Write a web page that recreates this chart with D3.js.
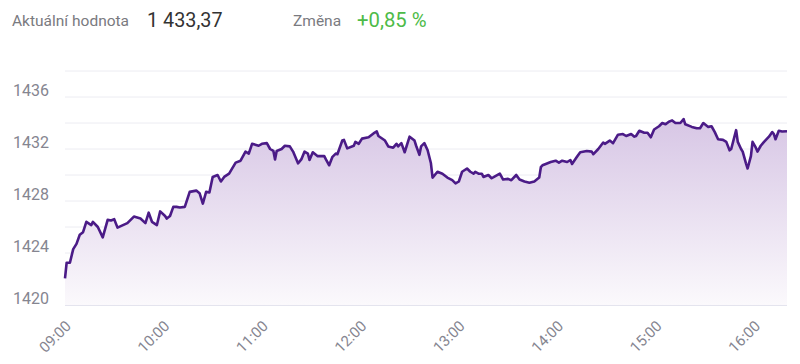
<!DOCTYPE html>
<html>
<head>
<meta charset="utf-8">
<script src="https://cdn.jsdelivr.net/npm/d3@7"></script>
<style>
  body { margin: 0; background: #fff; font-family: Roboto, "Open Sans", sans-serif; }
</style>
</head>
<body>
<script>
var times = [
  "09:00","09:01","09:03","09:05","09:07","09:09","09:11","09:13","09:16","09:17",
  "09:20","09:23","09:26","09:28","09:30","09:32","09:38","09:42","09:46","09:49",
  "09:51","09:53","09:56","09:58","10:01","10:02","10:04","10:06","10:08","10:10",
  "10:13","10:16","10:20","10:22","10:24","10:26","10:28","10:30","10:33","10:35",
  "10:37","10:40","10:44","10:47","10:50","10:52","10:54","10:58","11:00","11:03",
  "11:05","11:07","11:08","11:09","11:12","11:14","11:17","11:19","11:22","11:24",
  "11:26","11:28","11:29","11:31","11:34","11:38","11:39","11:41","11:43","11:45",
  "11:46","11:49","11:50","11:52","11:56","11:57","11:59","12:01","12:05","12:08",
  "12:10","12:11","12:15","12:17","12:20","12:22","12:23","12:25","12:27","12:30",
  "12:33","12:34","12:36","12:37","12:39","12:41","12:43","12:44","12:47","12:50",
  "12:53","12:56","12:58","13:00","13:02","13:05","13:07","13:09","13:10","13:12",
  "13:14","13:15","13:18","13:20","13:22","13:25","13:27","13:30","13:32","13:35",
  "13:37","13:40","13:43","13:46","13:49","13:50","13:51","13:53","13:56","13:59",
  "14:01","14:03","14:06","14:08","14:09","14:12","14:14","14:18","14:21","14:22",
  "14:25","14:28","14:29","14:32","14:34","14:37","14:40","14:42","14:45","14:47",
  "14:48","14:50","14:53","14:55","14:57","14:59","15:02","15:04","15:06","15:08",
  "15:10","15:12","15:15","15:17","15:18","15:22","15:25","15:27","15:29","15:32",
  "15:34","15:36","15:38","15:41","15:43","15:45","15:46","15:49","15:50","15:52",
  "15:53","15:55","15:56","15:58","15:59","16:01","16:02","16:04","16:06","16:09",
  "16:11","16:12","16:13","16:15","16:17","16:20"
];

var values = [
  1422.05,1423.25,1423.25,1424.3,1424.7,1425.4,1425.6,1426.4,1426.15,1426.4,
  1426.0,1425.2,1426.55,1426.5,1426.6,1425.95,1426.3,1426.8,1426.65,1426.3,
  1427.1,1426.4,1426.15,1427.2,1426.85,1426.65,1426.85,1427.55,1427.55,1427.5,
  1427.55,1428.7,1428.8,1428.6,1427.8,1428.7,1428.65,1429.85,1430.0,1429.5,
  1429.85,1430.1,1430.95,1431.1,1431.8,1431.65,1432.4,1432.25,1432.4,1432.45,
  1432.0,1431.85,1431.2,1431.85,1432.0,1432.25,1432.2,1431.8,1430.9,1431.2,
  1431.8,1431.65,1431.15,1431.75,1431.45,1431.45,1431.2,1430.75,1431.4,1431.65,
  1431.6,1432.65,1432.7,1432.05,1432.25,1432.55,1432.4,1432.8,1432.9,1433.2,
  1433.35,1433.0,1432.65,1432.2,1432.1,1432.4,1432.2,1432.45,1431.75,1432.95,
  1432.65,1432.25,1431.55,1432.2,1432.45,1431.9,1430.9,1429.8,1430.25,1430.1,
  1429.8,1429.6,1429.35,1429.5,1430.25,1430.5,1430.25,1430.1,1430.25,1430.1,
  1430.1,1429.85,1430.0,1429.75,1429.9,1430.1,1429.65,1429.7,1429.6,1430.0,
  1429.65,1429.5,1429.4,1429.5,1429.8,1430.6,1430.75,1430.85,1431.0,1431.1,
  1430.95,1431.1,1431.0,1431.15,1430.85,1431.4,1431.75,1431.85,1431.8,1431.6,
  1432.0,1432.5,1432.4,1432.65,1432.45,1433.1,1433.15,1433.0,1433.15,1432.95,
  1433.0,1433.4,1433.25,1433.25,1432.9,1433.5,1433.75,1434.0,1433.9,1434.1,
  1434.2,1434.0,1434.0,1434.3,1433.9,1433.7,1433.6,1433.6,1434.0,1433.7,
  1433.75,1433.3,1432.75,1432.7,1432.55,1431.9,1432.0,1433.45,1432.55,1432.0,
  1431.8,1430.9,1430.5,1431.45,1432.55,1432.1,1431.8,1432.25,1432.55,1432.95,
  1433.3,1433.15,1432.75,1433.4,1433.35,1433.37
];

var yTickLabels = [1420, 1424, 1428, 1432, 1436];
var yGridValues = [1420, 1422, 1424, 1426, 1428, 1430, 1432, 1434, 1436, 1438];
var xTickLabels = ["09:00", "10:00", "11:00", "12:00", "13:00", "14:00", "15:00", "16:00"];

var header = {
  label1: "Aktuální hodnota", value1: "1 433,37",
  label2: "Změna", value2: "+0,85 %"
};

var width = 800, height = 364;
var parse = d3.timeParse("%H:%M");
var data = times.map(function(t, i) { return { t: parse(t), v: values[i] } });

var x = d3.scaleTime()
  .domain([parse("09:00"), parse("16:20")])
  .range([65, 787]);

var y = d3.scaleLinear()
  .domain([1420, 1438])
  .range([305, 71]);

var svg = d3.select("body").append("svg")
  .attr("width", width)
  .attr("height", height);

// header
svg.append("text").attr("x", 12).attr("y", 26)
  .style("font-size", "15.5px").style("fill", "#7a7a80").text(header.label1);
svg.append("text").attr("x", 147).attr("y", 27)
  .style("font-size", "19.8px").style("fill", "#333").text(header.value1);
svg.append("text").attr("x", 293).attr("y", 26)
  .style("font-size", "15.5px").style("fill", "#7a7a80").text(header.label2);
svg.append("text").attr("x", 357).attr("y", 27)
  .style("font-size", "20.3px").style("fill", "#4dbb48").text(header.value2);

// gradient for area
var defs = svg.append("defs");
var grad = defs.append("linearGradient")
  .attr("id", "areaGrad")
  .attr("x1", 0).attr("y1", 0).attr("x2", 0).attr("y2", 1);
grad.append("stop").attr("offset", "0%").attr("stop-color", "#d7c6e5");
grad.append("stop").attr("offset", "100%").attr("stop-color", "#fbf9fc");

// grid
svg.append("g").selectAll("line")
  .data(yGridValues)
  .enter().append("line")
  .attr("x1", 65)
  .attr("x2", 787)
  .attr("y1", function(d) { return y(d) })
  .attr("y2", function(d) { return y(d) })
  .style("stroke", function(d) { return d == 1420 ? "#e4e4ee" : "#ececf2" })
  .style("stroke-width", function(d) { return d == 1420 ? 2 : 1 });

// y labels
svg.append("g").selectAll("text")
  .data(yTickLabels)
  .enter().append("text")
  .attr("x", 49)
  .attr("y", function(d) { return y(d) - 1.5 })
  .attr("text-anchor", "end")
  .style("font-size", "16px")
  .style("fill", "#858590")
  .text(function(d) { return d });

// area + line
var area = d3.area()
  .x(function(d) { return x(d.t) })
  .y0(y(1420))
  .y1(function(d) { return y(d.v) });

var line = d3.line()
  .x(function(d) { return x(d.t) })
  .y(function(d) { return y(d.v) });

svg.append("path")
  .datum(data)
  .attr("d", area)
  .style("fill", "url(#areaGrad)");

svg.append("path")
  .datum(data)
  .attr("d", line)
  .style("fill", "none")
  .style("stroke", "#4b1b87")
  .style("stroke-width", 2.6)
  .style("stroke-linejoin", "round");

// x labels
svg.append("g").selectAll("text")
  .data(xTickLabels)
  .enter().append("text")
  .attr("transform", function(d) {
    return "translate(" + (x(parse(d)) + 7) + ",327) rotate(-45)";
  })
  .attr("text-anchor", "end")
  .style("font-size", "15px")
  .style("fill", "#858590")
  .text(function(d) { return d });
</script>
</body>
</html>
